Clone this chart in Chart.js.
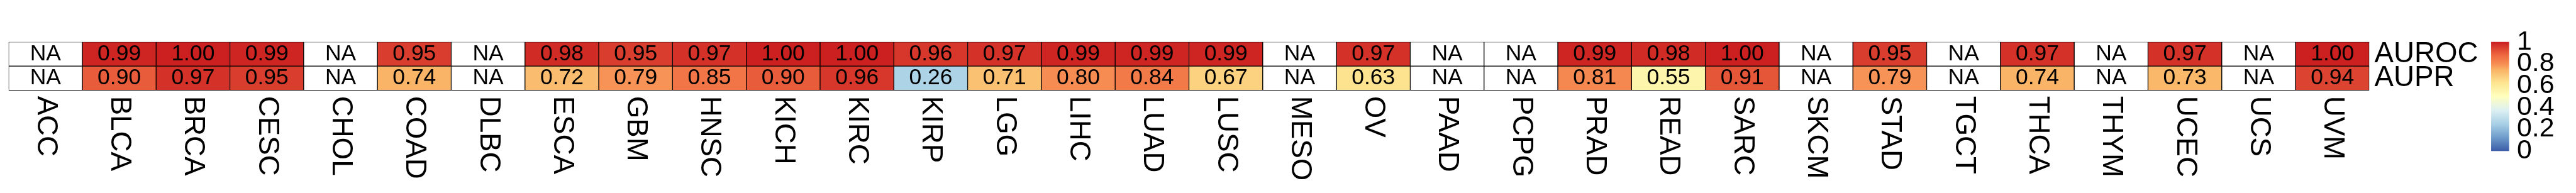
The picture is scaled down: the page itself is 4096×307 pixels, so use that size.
<!DOCTYPE html>
<html>
<head>
<meta charset="utf-8">
<title>AUROC / AUPR by cancer type</title>
<script src="https://cdn.jsdelivr.net/npm/chart.js@4.4.1/dist/chart.umd.min.js"></script>
<style>
  html, body { margin: 0; padding: 0; background: #fff; overflow: hidden; }
  #wrap { position: relative; width: 4096px; height: 307px; }
</style>
</head>
<body>
<div id="wrap"><canvas id="heatmap"></canvas></div>
<script>
// columns of the heatmap
const cancerTypes = ['ACC', 'BLCA', 'BRCA', 'CESC', 'CHOL', 'COAD', 'DLBC', 'ESCA', 'GBM', 'HNSC',
    'KICH', 'KIRC', 'KIRP', 'LGG', 'LIHC', 'LUAD', 'LUSC', 'MESO', 'OV', 'PAAD', 'PCPG', 'PRAD',
    'READ', 'SARC', 'SKCM', 'STAD', 'TGCT', 'THCA', 'THYM', 'UCEC', 'UCS', 'UVM'];

// rows
const rowNames = ['AUROC', 'AUPR'];

// null = NA
const auroc = [null, 0.99, 1.00, 0.99, null, 0.95, null, 0.98, 0.95, 0.97,
    1.00, 1.00, 0.96, 0.97, 0.99, 0.99, 0.99, null, 0.97, null, null, 0.99,
    0.98, 1.00, null, 0.95, null, 0.97, null, 0.97, null, 1.00];
const aupr = [null, 0.90, 0.97, 0.95, null, 0.74, null, 0.72, 0.79, 0.85,
    0.90, 0.96, 0.26, 0.71, 0.80, 0.84, 0.67, null, 0.63, null, null, 0.81,
    0.55, 0.91, null, 0.79, null, 0.74, null, 0.73, null, 0.94];

// colour bar range / tick step
const colorbarMin = 0;
const colorbarMax = 1;
const colorbarStep = 0.2;

// blue -> pale yellow -> red ramp
const rampStops = [0, 0.125, 0.25, 0.375, 0.5, 0.625, 0.75, 0.8, 0.875, 1];
const rampColors = ['#3b5ca6', '#6e9ccb', '#a9d0e6', '#ddf0f2', '#ffffbe',
    '#fde591', '#f9b064', '#f68c52', '#ef6a42', '#cb1f20'];

const S = 0.682;   // reference pixels -> window pixels
const FONT = "'Liberation Sans', Arial, Helvetica, sans-serif";

function hexToRgb(hex) {
    const n = parseInt(hex.slice(1), 16);
    return [(n >> 16) & 255, (n >> 8) & 255, n & 255];
}

// Function to map a value to the ramp colour
function rampColor(v) {
    if (v === null) return '#ffffff';
    for (let i = 1; i < rampStops.length; i++) {
        if (v <= rampStops[i]) {
            const t = (v - rampStops[i - 1]) / (rampStops[i] - rampStops[i - 1]);
            const a = hexToRgb(rampColors[i - 1]);
            const b = hexToRgb(rampColors[i]);
            const c = a.map((x, k) => Math.round(x + (b[k] - x) * t));
            return 'rgb(' + c.join(',') + ')';
        }
    }
    return rampColors[rampColors.length - 1];
}

// one dataset per row, each cell a floating bar spanning its row
const rows = [auroc, aupr];
const datasets = rows.map((vals, r) => ({
    label: rowNames[r],
    data: vals.map(() => [r, r + 1]),
    values: vals,
    backgroundColor: vals.map(rampColor),
    borderColor: '#000',
    borderWidth: 1,
    borderSkipped: false,
    grouped: false,
    barPercentage: 1,
    categoryPercentage: 1
}));

// reference layout: grid 21..212 px tall, colour bar 21..452 (value 1..0)
const yMax = rowNames.length * (452 - 21) / (212 - 21);

// value text inside each cell
const cellText = {
    id: 'cellText',
    afterDatasetsDraw(chart) {
        const ctx = chart.ctx;
        ctx.save();
        ctx.font = (52 * S) + 'px ' + FONT;
        ctx.fillStyle = '#000';
        ctx.textAlign = 'center';
        ctx.textBaseline = 'middle';
        chart.data.datasets.forEach((ds, di) => {
            chart.getDatasetMeta(di).data.forEach((bar, i) => {
                const v = ds.values[i];
                ctx.fillText(v === null ? 'NA' : v.toFixed(2), bar.x, (bar.y + bar.base) / 2);
            });
        });
        ctx.restore();
    }
};

// column names, rotated clockwise under the grid
const columnLabels = {
    id: 'columnLabels',
    afterDraw(chart) {
        const ctx = chart.ctx;
        const xScale = chart.scales.x;
        const top = chart.scales.y.getPixelForValue(rowNames.length) + 9;
        ctx.save();
        ctx.font = (67 * S) + 'px ' + FONT;
        ctx.fillStyle = '#000';
        ctx.textAlign = 'left';
        ctx.textBaseline = 'middle';
        cancerTypes.forEach((name, i) => {
            ctx.save();
            ctx.translate(xScale.getPixelForValue(i), top);
            ctx.rotate(Math.PI / 2);
            ctx.fillText(name, 0, 0);
            ctx.restore();
        });
        ctx.restore();
    }
};

// gradient strip next to the colour bar axis
const colorBar = {
    id: 'colorBar',
    afterDraw(chart) {
        const ctx = chart.ctx;
        const cb = chart.scales.cb;
        const yTop = cb.getPixelForValue(colorbarMax);
        const yBot = cb.getPixelForValue(colorbarMin);
        const grad = ctx.createLinearGradient(0, yBot, 0, yTop);
        rampStops.forEach((s, i) => grad.addColorStop(s, rampColors[i]));
        ctx.save();
        ctx.fillStyle = grad;
        ctx.fillRect(cb.left, yTop, 42 * S, yBot - yTop);
        ctx.restore();
    }
};

new Chart(document.getElementById('heatmap'), {
    type: 'bar',
    data: { labels: cancerTypes, datasets: datasets },
    options: {
        responsive: true,
        maintainAspectRatio: false,
        animation: false,
        events: [],
        layout: {
            autoPadding: false,
            padding: { left: 20 * S, top: 21 * S, right: 0, bottom: 307 - 452 * S }
        },
        scales: {
            x: {
                type: 'category',
                display: false,
                offset: true
            },
            y: {
                type: 'linear',
                position: 'right',
                reverse: true,
                min: 0,
                max: yMax,
                grid: { display: false, drawTicks: false },
                border: { display: false },
                afterBuildTicks: (scale) => {
                    scale.ticks = rowNames.map((_, r) => ({ value: r + 0.5 }));
                },
                afterFit: (scale) => { scale.width = (5808 - 5524) * S; },
                ticks: {
                    autoSkip: false,
                    padding: 12 * S,
                    color: '#000',
                    font: { family: FONT, size: 67 * S },
                    callback: (value, index) => rowNames[index]
                }
            },
            cb: {
                type: 'linear',
                position: 'right',
                min: colorbarMin,
                max: colorbarMax,
                grid: { display: false, drawTicks: false },
                border: { display: false },
                afterFit: (scale) => { scale.width = 4096 - 5808 * S; },
                ticks: {
                    stepSize: colorbarStep,
                    autoSkip: false,
                    padding: (5868 - 5808) * S,
                    color: '#000',
                    font: { family: FONT, size: 63 * S },
                    callback: (value) => String(parseFloat(value.toFixed(1)))
                }
            }
        },
        plugins: {
            legend: { display: false },
            tooltip: { enabled: false }
        }
    },
    plugins: [cellText, columnLabels, colorBar]
});
</script>
</body>
</html>
